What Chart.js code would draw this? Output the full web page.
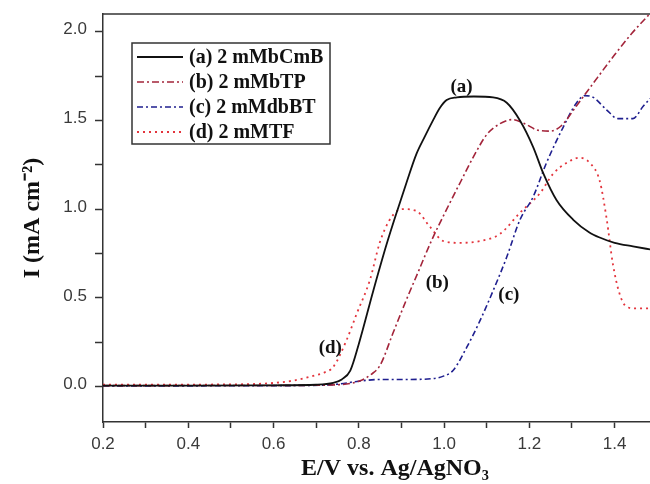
<!DOCTYPE html>
<html>
<head>
<meta charset="utf-8">
<script src="https://cdn.jsdelivr.net/npm/chart.js@4"></script>
<style>
  html, body { margin: 0; padding: 0; background: #fff; }
</style>
</head>
<body>
<canvas id="chart" width="650" height="484"></canvas>
<script>
// series labels
const seriesNames = ['(a) 2 mMbCmB', '(b) 2 mMbTP', '(c) 2 mMdbBT', '(d) 2 mMTF'];

// (a) bCmB - potential (V) and current density (mA cm-2)
const aE = [0.2, 0.4, 0.6, 0.7, 0.74, 0.76, 0.78, 0.80, 0.834, 0.865, 0.89, 0.912, 0.935, 0.955, 0.974, 0.99, 1.006, 1.03, 1.07, 1.115, 1.147, 1.178, 1.209, 1.233, 1.264, 1.303, 1.34, 1.365, 1.40, 1.443, 1.49];
const aI = [0.005, 0.005, 0.007, 0.01, 0.02, 0.04, 0.09, 0.24, 0.54, 0.80, 0.99, 1.15, 1.31, 1.41, 1.50, 1.57, 1.615, 1.63, 1.635, 1.63, 1.60, 1.50, 1.35, 1.20, 1.05, 0.94, 0.87, 0.84, 0.81, 0.79, 0.77];

// (b) bTP
const bE = [0.2, 0.6, 0.75, 0.80, 0.83, 0.85, 0.88, 0.91, 0.94, 0.97, 1.0, 1.04, 1.07, 1.10, 1.13, 1.16, 1.19, 1.22, 1.25, 1.275, 1.31, 1.35, 1.40, 1.44, 1.49];
const bI = [0.005, 0.006, 0.01, 0.03, 0.07, 0.12, 0.30, 0.48, 0.65, 0.82, 0.97, 1.16, 1.30, 1.42, 1.48, 1.505, 1.48, 1.445, 1.44, 1.47, 1.58, 1.71, 1.87, 1.99, 2.12];

// (c) dbBT
const cE = [0.2, 0.6, 0.72, 0.756, 0.80, 0.85, 0.92, 0.975, 1.0, 1.021, 1.053, 1.084, 1.115, 1.147, 1.178, 1.209, 1.24, 1.279, 1.311, 1.33, 1.35, 1.381, 1.408, 1.443, 1.467, 1.49];
const cI = [0.003, 0.005, 0.008, 0.015, 0.03, 0.04, 0.04, 0.045, 0.06, 0.09, 0.22, 0.37, 0.54, 0.73, 0.94, 1.07, 1.26, 1.46, 1.60, 1.64, 1.63, 1.56, 1.51, 1.51, 1.58, 1.64];

// (d) TF
const dE = [0.2, 0.5, 0.6, 0.65, 0.693, 0.72, 0.74, 0.771, 0.795, 0.826, 0.849, 0.87, 0.89, 0.905, 0.935, 0.967, 0.998, 1.037, 1.084, 1.131, 1.178, 1.225, 1.256, 1.287, 1.318, 1.342, 1.365, 1.381, 1.396, 1.412, 1.428, 1.45, 1.49];
const dI = [0.01, 0.012, 0.02, 0.035, 0.06, 0.08, 0.11, 0.26, 0.41, 0.60, 0.81, 0.93, 0.99, 1.00, 0.99, 0.90, 0.82, 0.81, 0.82, 0.86, 0.98, 1.09, 1.20, 1.26, 1.29, 1.26, 1.16, 0.95, 0.69, 0.52, 0.45, 0.44, 0.44];

// curve tags placed on the plot
const tagText = ['(a)', '(b)', '(c)', '(d)'];
const tagE = [1.041, 0.984, 1.152, 0.733];
const tagI = [1.686, 0.582, 0.514, 0.215];

const xTitle = 'E/V vs. Ag/AgNO₃';

const serif = "'Liberation Serif', 'Times New Roman', serif";
const sans = "'Liberation Sans', Arial, sans-serif";

function pts(xs, ys) {
    return xs.map((x, i) => ({ x: x, y: ys[i] }));
}

// top frame line; the original figure is cut off on the right
const frame = {
    id: 'frame',
    afterDatasetsDraw(chart) {
        const { ctx, chartArea: a } = chart;
        ctx.save();
        ctx.strokeStyle = '#333';
        ctx.lineWidth = 1.5;
        ctx.beginPath();
        ctx.moveTo(a.left, a.top);
        ctx.lineTo(a.right, a.top);
        ctx.stroke();
        ctx.restore();
    }
};

const tags = {
    id: 'tags',
    afterDatasetsDraw(chart) {
        const { ctx, scales } = chart;
        ctx.save();
        ctx.font = 'bold 19px ' + serif;
        ctx.fillStyle = '#111';
        ctx.textAlign = 'center';
        ctx.textBaseline = 'middle';
        tagText.forEach((t, i) => {
            ctx.fillText(t, scales.x.getPixelForValue(tagE[i]), scales.y.getPixelForValue(tagI[i]));
        });
        ctx.restore();
    }
};

// x title sits off-centre because the plot frame continues past the crop
const bottomTitle = {
    id: 'bottomTitle',
    afterDraw(chart) {
        const { ctx, chartArea: a } = chart;
        ctx.save();
        ctx.font = 'bold 24px ' + serif;
        ctx.fillStyle = '#111';
        ctx.textAlign = 'center';
        ctx.textBaseline = 'middle';
        ctx.fillText(xTitle, a.left + 292, chart.height - 15);
        ctx.restore();
    }
};

const boxLegend = {
    id: 'boxLegend',
    afterDraw(chart) {
        const { ctx, chartArea: a } = chart;
        const left = a.left + 29, top = a.top + 29;
        ctx.save();
        ctx.fillStyle = '#fff';
        ctx.fillRect(left, top, 198, 101);
        ctx.strokeStyle = '#333';
        ctx.lineWidth = 1.5;
        ctx.strokeRect(left, top, 198, 101);
        ctx.font = 'bold 20px ' + serif;
        ctx.textBaseline = 'middle';
        chart.data.datasets.forEach((ds, i) => {
            const y = top + 14 + i * 25;
            ctx.strokeStyle = ds.borderColor;
            ctx.lineWidth = ds.borderWidth;
            ctx.setLineDash(ds.borderDash || []);
            ctx.beginPath();
            ctx.moveTo(left + 5, y);
            ctx.lineTo(left + 51, y);
            ctx.stroke();
            ctx.setLineDash([]);
            ctx.fillStyle = '#111';
            ctx.fillText(ds.label, left + 57, y + 1);
        });
        ctx.restore();
    }
};

new Chart(document.getElementById('chart'), {
    type: 'line',
    data: {
        datasets: [
            { label: seriesNames[0], data: pts(aE, aI), borderColor: '#111', borderWidth: 1.8, borderDash: [] },
            { label: seriesNames[1], data: pts(bE, bI), borderColor: '#a3243a', borderWidth: 1.6, borderDash: [7, 3, 2, 3] },
            { label: seriesNames[2], data: pts(cE, cI), borderColor: '#1f1f8f', borderWidth: 1.6, borderDash: [6, 3, 2, 3] },
            { label: seriesNames[3], data: pts(dE, dI), borderColor: '#e3343c', borderWidth: 1.8, borderDash: [2, 4] }
        ]
    },
    options: {
        responsive: false,
        animation: false,
        layout: { padding: { top: 14, right: 0, left: 0, bottom: 0 } },
        elements: {
            point: { radius: 0 },
            line: { cubicInterpolationMode: 'monotone', fill: false }
        },
        plugins: {
            legend: { display: false },
            tooltip: { enabled: false }
        },
        scales: {
            x: {
                type: 'linear',
                min: 0.2,
                max: 1.483,
                afterFit: s => { s.height = 62; s.paddingLeft = 0; s.paddingRight = 0; },
                border: { display: true, color: '#333', width: 1.5 },
                grid: { drawOnChartArea: false, drawTicks: true, tickLength: 6, tickColor: '#333', tickWidth: 1.5 },
                ticks: {
                    stepSize: 0.1,
                    includeBounds: false,
                    autoSkip: false,
                    maxRotation: 0,
                    maxTicksLimit: 30,
                    padding: 6,
                    color: '#3a3a3a',
                    font: { family: sans, size: 17 },
                    callback: v => Math.round(v * 10) % 2 === 0 ? v.toFixed(1) : ''
                }
            },
            y: {
                min: -0.2,
                max: 2.1,
                afterFit: s => { s.width = 103; s.paddingTop = 0; s.paddingBottom = 0; },
                border: { display: true, color: '#333', width: 1.5 },
                grid: { drawOnChartArea: false, drawTicks: true, tickLength: 8, tickColor: '#333', tickWidth: 1.5 },
                ticks: {
                    stepSize: 0.25,
                    includeBounds: false,
                    autoSkip: false,
                    maxTicksLimit: 30,
                    padding: 8,
                    labelOffset: -2,
                    color: '#3a3a3a',
                    font: { family: sans, size: 17 },
                    callback: v => Math.abs(v * 2 - Math.round(v * 2)) < 1e-6 ? v.toFixed(1) : ''
                },
                title: {
                    display: true,
                    text: 'I (mA cm⁻²)',
                    color: '#111',
                    font: { family: serif, size: 24, weight: 'bold' },
                    padding: { top: 18, bottom: 0 }
                }
            }
        }
    },
    plugins: [frame, tags, bottomTitle, boxLegend]
});
</script>
</body>
</html>
